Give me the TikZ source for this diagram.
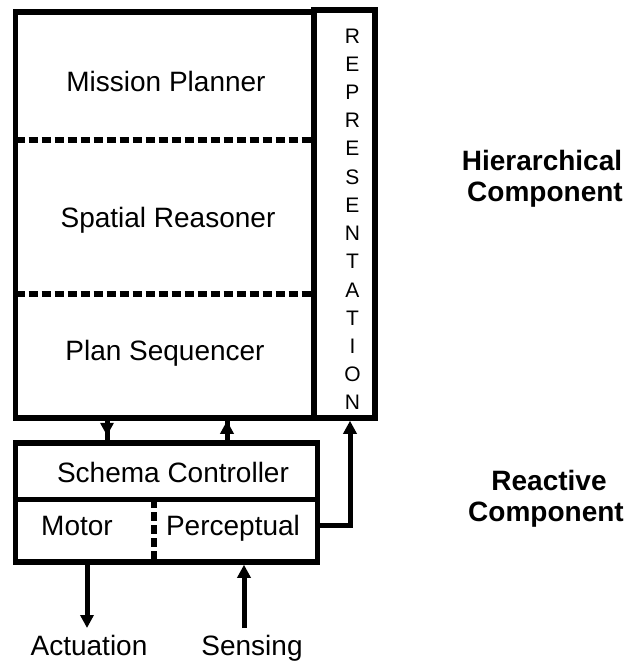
\documentclass[tikz,border=0pt]{standalone}
\usepackage{fontspec}
\setmainfont{Liberation Sans}
\usetikzlibrary{arrows.meta}
\begin{document}
\begin{tikzpicture}[x=1pt,y=-1pt,
  box/.style={draw, line width=5.5pt, inner sep=0pt},
  divider/.style={line width=5pt},
  dashdiv/.style={line width=5.5pt, dash pattern=on 9pt off 4pt},
  shaft/.style={line width=5pt},
  arr/.style={line width=5pt, -{Triangle[width=13pt,length=13pt]}},
  lbl/.style={font=\fontsize{28}{33}\selectfont, inner sep=0pt, anchor=base},
  side/.style={font=\fontsize{28}{33}\selectfont\bfseries, inner sep=0pt, anchor=base},
  letter/.style={font=\fontsize{21}{25}\selectfont, inner sep=0pt, anchor=base}]
\useasboundingbox (0,0) rectangle (633,662);

% hierarchical component
\node[box, minimum width=298.5pt, minimum height=406pt] (main) at (164.75,215) {};
\node[box, minimum width=61pt, minimum height=408pt] (rep) at (344.5,214) {};
\draw[dashdiv] (15.5,140) -- (314,140);
\draw[dashdiv] (15.5,294) -- (314,294);
\node[lbl] (mission) at (166,91) {Mission Planner};
\node[lbl] (spatial) at (168,227) {Spatial Reasoner};
\node[lbl] (sequencer) at (165,360) {Plan Sequencer};
\foreach \ch [count=\i from 0] in {R,E,P,R,E,S,E,N,T,A,T,I,O,N}
  \node[letter] (rep-\i) at (352.5,43+28.23*\i) {\ch};

% reactive component
\node[box, minimum width=302pt, minimum height=119pt] (lower) at (166.5,502.5) {};
\coordinate (divy) at (0,499);
\draw[divider] (lower.west |- divy) -- (lower.east |- divy);
\draw[dashdiv] (154,499) -- (154,562);
\node[lbl] (schema) at (173,482) {Schema Controller};
\node[lbl] (motor) at (77,535) {Motor};
\node[lbl] (percep) at (233,535) {Perceptual};

% connections between the layers (short stub continues past each head)
\coordinate (c1) at (107,0);
\coordinate (c2) at (227,0);
\coordinate (pc) at (350,525);
\draw[shaft] (main.south -| c1) -- (lower.north -| c1);
\draw[arr] (main.south -| c1) -- ++(0,15);
\draw[shaft] (lower.north -| c2) -- (main.south -| c2);
\draw[arr] (lower.north -| c2) -- (main.south -| c2);
\draw[arr] (lower.east |- pc) -- (pc) -- (rep.south -| pc);

% actuation and sensing
\coordinate (act) at (87,628);
\coordinate (sen) at (244,628);
\draw[arr] (lower.south -| act) -- (act);
\draw[arr] (sen) -- (lower.south -| sen);
\node[lbl] (actuation) at (89,655) {Actuation};
\node[lbl] (sensing) at (252,655) {Sensing};

% side labels
\node[side] (hier1) at (542,170) {Hierarchical};
\node[side] (hier2) at (545,201) {Component};
\node[side] (reac1) at (549,490) {Reactive};
\node[side] (reac2) at (546,521) {Component};
\end{tikzpicture}
\end{document}
